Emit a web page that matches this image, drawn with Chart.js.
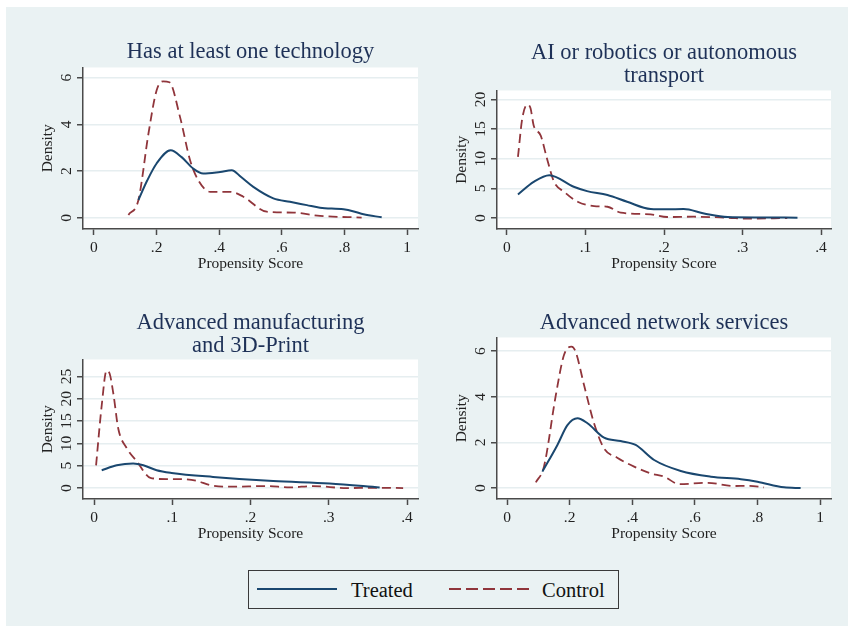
<!DOCTYPE html>
<html>
<head>
<meta charset="utf-8">
<script src="https://cdn.jsdelivr.net/npm/chart.js@4"></script>
<style>
  body { margin: 0; background: #fff; }
  #bg { position: absolute; left: 6px; top: 7px; width: 842px; height: 619px; background: #eaf2f3; }
  canvas { position: absolute; }
  #legend { position: absolute; left: 248px; top: 570px; width: 371px; height: 39px; box-sizing: border-box;
            border: 1.5px solid #3a3a3a; font-family: "Liberation Serif", serif; font-size: 20.5px; color: #111; }
  #legend span { position: absolute; top: 8px; }
  #legend svg { position: absolute; left: 0; top: 0; }
</style>
</head>
<body>
<div id="bg"></div>
<div id="legend">
  <svg width="371" height="39">
    <line x1="8" y1="18" x2="88" y2="18" stroke="#1a476f" stroke-width="2"/>
    <line x1="200" y1="18" x2="282" y2="18" stroke="#90353b" stroke-width="2" stroke-dasharray="12 5"/>
  </svg>
  <span style="left:102px">Treated</span>
  <span style="left:293px">Control</span>
</div>
<script>
// Has at least one technology
const anyTechTreatedX = [0.142, 0.17, 0.200, 0.245, 0.28, 0.317, 0.349, 0.403, 0.44, 0.47, 0.509, 0.573, 0.626, 0.68, 0.722, 0.797, 0.83, 0.861, 0.919];
const anyTechTreatedY = [0.77, 1.6, 2.33, 2.89, 2.6, 2.11, 1.90, 1.97, 2.04, 1.75, 1.33, 0.84, 0.69, 0.55, 0.44, 0.37, 0.28, 0.16, 0.03];
const anyTechControlX = [0.110, 0.142, 0.174, 0.200, 0.221, 0.241, 0.275, 0.307, 0.333, 0.371, 0.435, 0.477, 0.552, 0.637, 0.722, 0.855];
const anyTechControlY = [0.13, 0.77, 3.60, 5.45, 5.84, 5.80, 4.31, 2.47, 1.62, 1.12, 1.12, 0.91, 0.27, 0.23, 0.09, 0.02];

// AI or robotics or autonomous transport
const aiTreatedX = [0.014, 0.034, 0.054, 0.085, 0.102, 0.128, 0.153, 0.183, 0.204, 0.225, 0.251, 0.281, 0.323, 0.370];
const aiTreatedY = [3.98, 6.1, 7.23, 5.27, 4.54, 3.87, 2.74, 1.51, 1.46, 1.51, 0.78, 0.17, 0.1, 0.05];
const aiControlX = [0.014, 0.0195, 0.026, 0.030, 0.034, 0.043, 0.051, 0.060, 0.073, 0.090, 0.111, 0.128, 0.145, 0.183, 0.204, 0.238, 0.281, 0.306, 0.357];
const aiControlY = [10.3, 16.8, 19.1, 18.5, 15.6, 13.9, 10.0, 6.1, 4.4, 2.74, 2.02, 1.9, 0.9, 0.62, 0.17, 0.22, 0.05, -0.1, 0];

// Advanced manufacturing and 3D-Print
const mfgTreatedX = [0.0098, 0.029, 0.050, 0.063, 0.080, 0.099, 0.152, 0.229, 0.301, 0.365];
const mfgTreatedY = [4.0, 5.1, 5.5, 5.1, 4.0, 3.4, 2.5, 1.56, 1.04, 0.15];
const mfgControlX = [0.0026, 0.0098, 0.016, 0.020, 0.025, 0.031, 0.042, 0.055, 0.072, 0.093, 0.110, 0.131, 0.148, 0.174, 0.221, 0.250, 0.280, 0.323, 0.357, 0.395];
const mfgControlY = [5.1, 18.5, 26.3, 25.6, 20.8, 13.3, 8.9, 5.9, 2.3, 2.0, 2.0, 1.63, 0.67, 0.3, 0.45, 0.15, 0.45, 0, 0.07, 0];

// Advanced network services
const netTreatedX = [0.113, 0.161, 0.193, 0.225, 0.257, 0.310, 0.363, 0.411, 0.470, 0.555, 0.651, 0.747, 0.800, 0.885, 0.938];
const netTreatedY = [0.72, 1.89, 2.76, 3.06, 2.84, 2.21, 2.06, 1.89, 1.23, 0.75, 0.5, 0.39, 0.28, 0.03, 0];
const netControlX = [0.092, 0.118, 0.156, 0.182, 0.206, 0.219, 0.246, 0.278, 0.310, 0.352, 0.406, 0.459, 0.502, 0.550, 0.640, 0.725, 0.768, 0.821];
const netControlY = [0.25, 0.94, 4.08, 5.83, 6.2, 5.98, 4.52, 2.84, 1.74, 1.33, 0.94, 0.64, 0.5, 0.17, 0.23, 0.09, 0.1, 0.03];

// tick labels
const xTicksUnit = [0, 0.2, 0.4, 0.6, 0.8, 1];
const xTicksSmall = [0, 0.1, 0.2, 0.3, 0.4];
const yTicksSix = [0, 2, 4, 6];
const yTicksAi = [0, 5, 10, 15, 20];
const yTicksMfg = [0, 5, 10, 15, 20, 25];

const serif = '"Liberation Serif", "Times New Roman", serif';
const navy = '#1a476f';
const maroon = '#90353b';
const axisCol = '#4a4a4a';
const gridCol = '#e6eef0';

const plotBg = {
  id: 'plotBg',
  beforeDraw(chart) {
    const a = chart.chartArea;
    chart.ctx.save();
    chart.ctx.fillStyle = '#fff';
    chart.ctx.fillRect(a.left, a.top, a.width, a.height);
    chart.ctx.restore();
  }
};

const mctx = document.createElement('canvas').getContext('2d');
mctx.font = '15.5px ' + serif;

function fmt(v) {
  if (v === 0) return '0';
  if (v === 1) return '1';
  return String(v).replace(/^0/, '');
}

function pts(xs, ys) {
  return xs.map((x, i) => ({ x: x, y: ys[i] }));
}

function panel(p) {
  const yAxisW = 53, xAxisH = 46, padR = 12, lineH = 23;
  const left = p.rect.l - yAxisW;
  const top = p.titleY - lineH / 2 - 4;
  const w = p.rect.r - left + padR;
  const h = p.rect.b + xAxisH - top;
  const cv = document.createElement('canvas');
  cv.width = w; cv.height = h;
  cv.style.left = left + 'px'; cv.style.top = top + 'px';
  document.body.appendChild(cv);

  const widest = Math.max(...p.yTicks.map(v => mctx.measureText(fmt(v)).width));
  const nLines = p.title.length;

  new Chart(cv, {
    type: 'line',
    data: {
      datasets: [{
        label: 'Treated',
        data: pts(p.tx, p.ty),
        borderColor: navy,
        borderWidth: 2,
        pointRadius: 0,
        cubicInterpolationMode: 'monotone'
      }, {
        label: 'Control',
        data: pts(p.cx, p.cy),
        borderColor: maroon,
        borderWidth: 1.8,
        borderDash: [9, 5],
        pointRadius: 0,
        cubicInterpolationMode: 'monotone'
      }]
    },
    options: {
      responsive: false,
      animation: false,
      layout: { padding: { left: 0, right: padR, top: 0, bottom: 0 } },
      plugins: {
        legend: { display: false },
        tooltip: { enabled: false },
        title: {
          display: true,
          fullSize: false,
          text: p.title,
          color: '#1e3157',
          font: { family: serif, size: 22.5, weight: 'normal', lineHeight: lineH / 22.5 },
          padding: { top: 4, bottom: p.rect.t - (p.titleY + lineH / 2 + (nLines - 1) * lineH) }
        }
      },
      scales: {
        x: {
          type: 'linear',
          min: p.xMin, max: p.xMax,
          afterBuildTicks: s => { s.ticks = p.xTicks.map(v => ({ value: v })); },
          afterFit: s => { s.height = xAxisH; },
          border: { display: true, color: axisCol, width: 1.5 },
          grid: { drawOnChartArea: false, tickColor: axisCol, tickLength: 6, tickWidth: 1.5 },
          ticks: { callback: v => fmt(v), color: '#222', padding: 3.5, maxRotation: 0,
                   font: { family: serif, size: 15.5 } },
          title: { display: true, text: 'Propensity Score', color: '#222',
                   font: { family: serif, size: 15.5 }, padding: { top: 0, bottom: 1.7 } }
        },
        y: {
          type: 'linear',
          min: p.yMin, max: p.yMax,
          afterBuildTicks: s => { s.ticks = p.yTicks.map(v => ({ value: v })); },
          afterFit: s => { s.width = yAxisW; },
          border: { display: true, color: axisCol, width: 1.5 },
          grid: { color: gridCol, lineWidth: 1.5, tickColor: axisCol, tickLength: 6, tickWidth: 1.5 },
          ticks: { callback: v => fmt(v), color: '#222', minRotation: 90, maxRotation: 90,
                   crossAlign: 'center', padding: 10.5 - widest / 2,
                   font: { family: serif, size: 15.5 } },
          title: { display: true, text: 'Density', color: '#222',
                   font: { family: serif, size: 15.5 }, padding: { top: 8.2, bottom: 0 } }
        }
      }
    },
    plugins: [plotBg]
  });
}

panel({
  rect: { l: 83, r: 418, t: 67, b: 229 }, titleY: 52,
  title: ['Has at least one technology'],
  tx: anyTechTreatedX, ty: anyTechTreatedY, cx: anyTechControlX, cy: anyTechControlY,
  xMin: -0.035, xMax: 1.035, yMin: -0.47, yMax: 6.43,
  xTicks: xTicksUnit, yTicks: yTicksSix
});

panel({
  rect: { l: 497, r: 831, t: 90, b: 229 }, titleY: 53,
  title: ['AI or robotics or autonomous', 'transport'],
  tx: aiTreatedX, ty: aiTreatedY, cx: aiControlX, cy: aiControlY,
  xMin: -0.0127, xMax: 0.4127, yMin: -1.85, yMax: 21.5,
  xTicks: xTicksSmall, yTicks: yTicksAi
});

panel({
  rect: { l: 83, r: 418, t: 359, b: 499 }, titleY: 323,
  title: ['Advanced manufacturing', 'and 3D-Print'],
  tx: mfgTreatedX, ty: mfgTreatedY, cx: mfgControlX, cy: mfgControlY,
  xMin: -0.0141, xMax: 0.414, yMin: -2.45, yMax: 28.8,
  xTicks: xTicksSmall, yTicks: yTicksMfg
});

panel({
  rect: { l: 497, r: 831, t: 337, b: 499 }, titleY: 323,
  title: ['Advanced network services'],
  tx: netTreatedX, ty: netTreatedY, cx: netControlX, cy: netControlY,
  xMin: -0.032, xMax: 1.035, yMin: -0.48, yMax: 6.6,
  xTicks: xTicksUnit, yTicks: yTicksSix
});
</script>
</body>
</html>
